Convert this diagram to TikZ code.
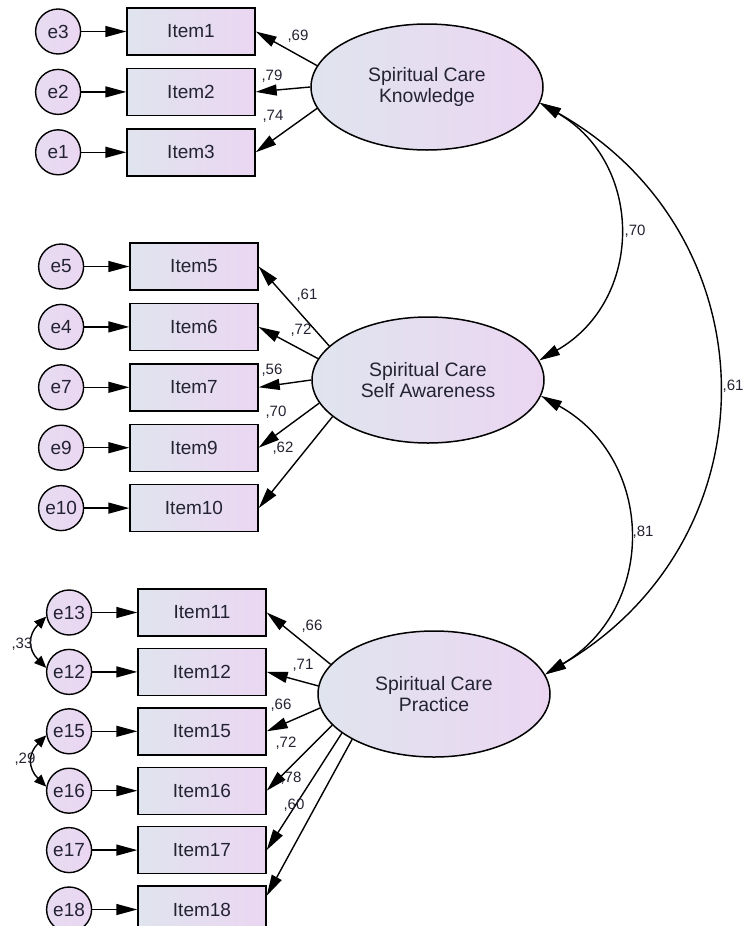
\documentclass[tikz,border=0pt]{standalone}
\usepackage{fontspec}
\setmainfont{Liberation Sans}
\usetikzlibrary{shapes.geometric, arrows.meta, positioning}
\definecolor{ink}{RGB}{35,35,50}
\definecolor{leftfill}{RGB}{224,228,238}
\definecolor{rightfill}{RGB}{235,214,242}

\begin{document}
\begin{tikzpicture}[
  x=1pt, y=1pt,
  node distance=12pt and 45pt,
  item/.style={rectangle, draw=black, line width=1.4pt, left color=leftfill, right color=rightfill,
               minimum width=128pt, minimum height=47pt, inner sep=0pt,
               font=\fontsize{19}{22}\selectfont, text=ink},
  err/.style={circle, draw=black, line width=1.4pt, left color=leftfill!40!rightfill, right color=rightfill,
              minimum size=45pt, inner sep=0pt, font=\fontsize{19}{22}\selectfont, text=ink},
  latent/.style={ellipse, draw=black, line width=1.5pt, left color=leftfill, right color=rightfill,
                 minimum width=232pt, minimum height=126pt, inner sep=0pt, align=center,
                 font=\fontsize{19.4}{21.6}\selectfont, text=ink},
  lbl/.style={font=\fontsize{15}{18}\selectfont, text=ink, inner sep=0pt},
  arrow/.style={-{Triangle[length=21pt,width=11pt]}, line width=1.4pt},
  cov/.style={{Triangle[length=21pt,width=11pt]}-{Triangle[length=21pt,width=11pt]}, line width=1.4pt},
  ecov/.style={{Triangle[length=12pt,width=10pt]}-{Triangle[length=12pt,width=10pt]}, line width=1.4pt}
]
  \useasboundingbox (0,0) rectangle (743,-926);

  \node[latent] (know) at (427,-87) {Spiritual Care\\Knowledge};
  \node[latent] (aware) at (428,-380) {Spiritual Care\\Self Awareness};
  \node[latent] (prac) at (434,-694) {Spiritual Care\\Practice};

  \node[item] (i1) at (191,-31.5) {Item1};
  \node[item, below=of i1] (i2) {Item2};
  \node[item, below=of i2] (i3) {Item3};
  \node[err, left=of i1] (e3) {e3};
  \node[err, left=of i2] (e2) {e2};
  \node[err, left=of i3] (e1) {e1};

  \node[item] (i5) at (194,-266.5) {Item5};
  \node[item, below=of i5] (i6) {Item6};
  \node[item, below=of i6] (i7) {Item7};
  \node[item, below=of i7] (i9) {Item9};
  \node[item, below=of i9] (i10) {Item10};
  \node[err, left=of i5] (e5) {e5};
  \node[err, left=of i6] (e4) {e4};
  \node[err, left=of i7] (e7) {e7};
  \node[err, left=of i9] (e9) {e9};
  \node[err, left=of i10] (e10) {e10};

  \node[item] (i11) at (202,-612.5) {Item11};
  \node[item, below=11pt of i11] (i12) {Item12};
  \node[item, below=11pt of i12] (i15) {Item15};
  \node[item, below=11pt of i15] (i16) {Item16};
  \node[item, below=11pt of i16] (i17) {Item17};
  \node[item, below=11pt of i17] (i18) {Item18};
  \node[err, left=of i11] (e13) {e13};
  \node[err, left=of i12] (e12) {e12};
  \node[err, left=of i15] (e15) {e15};
  \node[err, left=of i16] (e16) {e16};
  \node[err, left=of i17] (e17) {e17};
  \node[err, left=of i18] (e18) {e18};

  \draw[arrow] (e3)--(i1);
  \draw[arrow] (e2)--(i2);
  \draw[arrow] (e1)--(i3);
  \draw[arrow] (e5)--(i5);
  \draw[arrow] (e4)--(i6);
  \draw[arrow] (e7)--(i7);
  \draw[arrow] (e9)--(i9);
  \draw[arrow] (e10)--(i10);
  \draw[arrow] (e13)--(i11);
  \draw[arrow] (e12)--(i12);
  \draw[arrow] (e15)--(i15);
  \draw[arrow] (e16)--(i16);
  \draw[arrow] (e17)--(i17);
  \draw[arrow] (e18)--(i18);

  \draw[arrow] (know.169)--(i1.east);
  \draw[arrow] (know.180)--(i2.east);
  \draw[arrow] (know.191)--(i3.east);
  \draw[arrow] (aware.161)--(i5.east);
  \draw[arrow] (aware.169)--(i6.east);
  \draw[arrow] (aware.180)--(i7.east);
  \draw[arrow] (aware.192)--(i9.east);
  \draw[arrow] (aware.201)--(i10.east);
  \draw[arrow] (prac.164)--(i11.east);
  \draw[arrow] (prac.176)--(i12.east);
  \draw[arrow] (prac.187)--(i15.east);
  \draw[arrow] (prac.197)--(i16.east);
  \draw[arrow] (prac.203)--(i17.east);
  \draw[arrow] (prac.209)--(i18.12);

  \draw[cov] (know.-8) to[bend left=60, looseness=1.2] (aware.10);
  \draw[cov] (know.-8) to[bend left=60, looseness=1.2] (prac.10);
  \draw[cov] (aware.-8) to[bend left=60, looseness=1.2] (prac.10);
  \draw[ecov] (e13.190) to[out=225, in=135, looseness=1.3] (e12.170);
  \draw[ecov] (e15.190) to[out=225, in=135, looseness=1.3] (e16.170);

  \node[lbl] (lk1) at (298,-36) {,69};
  \node[lbl] (lk2) at (272,-76) {,79};
  \node[lbl] (lk3) at (273,-116) {,74};
  \node[lbl] (la1) at (307,-295) {,61};
  \node[lbl] (la2) at (301,-330) {,72};
  \node[lbl] (la3) at (272,-370) {,56};
  \node[lbl] (la4) at (276,-412) {,70};
  \node[lbl] (la5) at (283,-448) {,62};
  \node[lbl] (lp1) at (312,-626) {,66};
  \node[lbl] (lp2) at (303,-665) {,71};
  \node[lbl] (lp3) at (281,-705) {,66};
  \node[lbl] (lp4) at (286,-743) {,72};
  \node[lbl] (lp5) at (291,-778) {,78};
  \node[lbl] (lp6) at (294,-805) {,60};
  \node[lbl] (lka) at (635,-231) {,70};
  \node[lbl] (lkp) at (733,-386) {,61};
  \node[lbl] (lap) at (643,-532) {,81};
  \node[lbl] (le1) at (22,-644) {,33};
  \node[lbl] (le2) at (25,-759) {,29};
\end{tikzpicture}
\end{document}
